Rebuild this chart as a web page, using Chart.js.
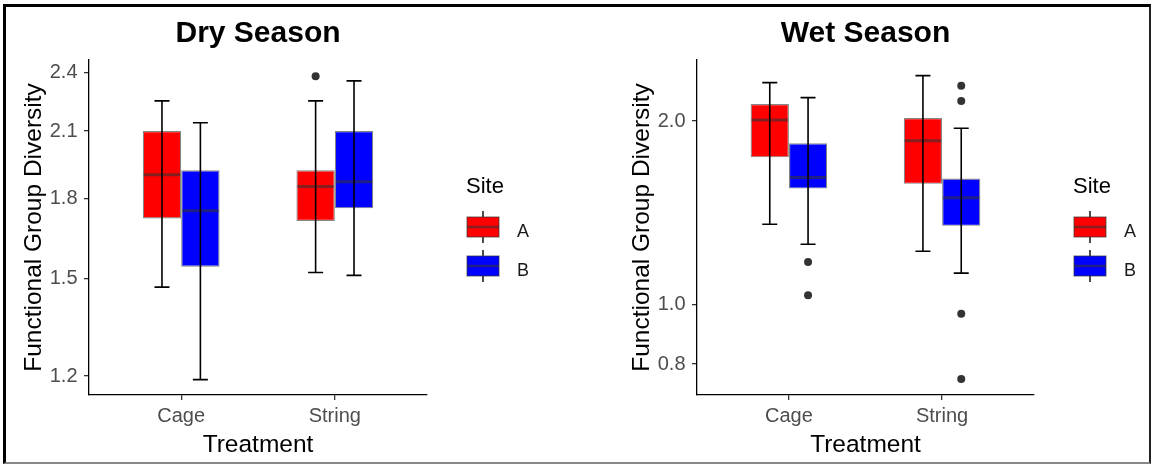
<!DOCTYPE html>
<html>
<head>
<meta charset="utf-8">
<script src="https://cdn.jsdelivr.net/npm/chart.js@4.4.1/dist/chart.umd.min.js"></script>
<style>
    body { margin: 0; background: #fff; }
    #marco {
        position: absolute; left: 3px; top: 4px; width: 1148px; height: 460px; box-sizing: border-box;
        border-left: 3px solid #000; border-top: 3px solid #000;
        border-right: 2px solid #222; border-bottom: 2px solid #888;
    }
    canvas { position: absolute; top: 0; }
    #seca { left: 0; }
    #chuva { left: 608px; }
</style>
</head>
<body>
<div id="marco"></div>
<canvas id="seca" width="576" height="465"></canvas>
<canvas id="chuva" width="544" height="465"></canvas>
<script>
const treatments = ['Cage', 'String'];
const sites = ['A', 'B'];
const siteColors = ['#FF0000', '#0000FF'];

// [whisker low, Q1, median, Q3, whisker high] for Cage, String
const dryA = [[1.47, 1.72, 1.90, 2.10, 2.25], [1.52, 1.71, 1.85, 1.92, 2.25]];
const dryB = [[1.19, 1.54, 1.75, 1.92, 2.14], [1.51, 1.76, 1.87, 2.10, 2.355]];
const dryOutA = [[], [2.38]];
const dryOutB = [[], []];

const wetA = [[1.355, 1.744, 2.007, 2.132, 2.311], [1.224, 1.578, 1.857, 2.023, 2.373]];
const wetB = [[1.257, 1.55, 1.616, 1.839, 2.184], [1.127, 1.347, 1.498, 1.61, 1.946]];
const wetOutA = [[], []];
const wetOutB = [[1.175, 1.037], [2.285, 2.157, 0.967, 0.756]];

const dryTicks = [1.2, 1.5, 1.8, 2.1, 2.4];
const wetTicks = [0.8, 1.0, 2.0];
const dryLimits = [1.149, 2.47];
const wetLimits = [0.712, 2.517];

const fonte = '"Liberation Sans", Arial, sans-serif';
Chart.defaults.font.family = fonte;

// medians, whiskers and outliers on top of the floating bars
const boxplotPlugin = {
    id: 'boxplot',
    afterDatasetsDraw(chart) {
        const ctx = chart.ctx;
        const y = chart.scales.y;
        chart.data.datasets.forEach((ds, i) => {
            const meta = chart.getDatasetMeta(i);
            meta.data.forEach((bar, j) => {
                const [low, q1, med, q3, high] = ds.stats[j];
                const half = bar.width / 2;
                ctx.save();
                ctx.strokeStyle = 'rgba(51,51,51,0.6)';
                ctx.lineWidth = 3;
                ctx.beginPath();
                ctx.moveTo(bar.x - half + 1, y.getPixelForValue(med));
                ctx.lineTo(bar.x + half - 1, y.getPixelForValue(med));
                ctx.stroke();

                ctx.strokeStyle = '#000';
                ctx.lineWidth = 1.6;
                ctx.beginPath();
                ctx.moveTo(bar.x, y.getPixelForValue(low));
                ctx.lineTo(bar.x, y.getPixelForValue(high));
                ctx.moveTo(bar.x - 7.5, y.getPixelForValue(low));
                ctx.lineTo(bar.x + 7.5, y.getPixelForValue(low));
                ctx.moveTo(bar.x - 7.5, y.getPixelForValue(high));
                ctx.lineTo(bar.x + 7.5, y.getPixelForValue(high));
                ctx.stroke();

                ctx.fillStyle = '#333';
                ds.outliers[j].forEach(v => {
                    ctx.beginPath();
                    ctx.arc(bar.x, y.getPixelForValue(v), 4, 0, 2 * Math.PI);
                    ctx.fill();
                });
                ctx.restore();
            });
        });
    }
};

const legendPlugin = {
    id: 'legendaSite',
    afterDraw(chart) {
        const ctx = chart.ctx;
        const { right, top } = chart.chartArea;
        const x0 = right + 39;
        ctx.save();
        ctx.fillStyle = '#000';
        ctx.font = `22px ${fonte}`;
        ctx.textBaseline = 'alphabetic';
        ctx.fillText('Site', x0, top + 133);
        sites.forEach((s, i) => {
            const kx = x0 + 1, ky = top + 157 + i * 39, kw = 32, kh = 20;
            ctx.strokeStyle = '#000';
            ctx.lineWidth = 1.4;
            ctx.beginPath();
            ctx.moveTo(kx + kw / 2, ky - 6);
            ctx.lineTo(kx + kw / 2, ky + kh + 6);
            ctx.stroke();
            ctx.fillStyle = siteColors[i];
            ctx.fillRect(kx, ky, kw, kh);
            ctx.strokeStyle = 'rgba(51,51,51,0.6)';
            ctx.lineWidth = 1.2;
            ctx.strokeRect(kx, ky, kw, kh);
            ctx.lineWidth = 2.5;
            ctx.beginPath();
            ctx.moveTo(kx, ky + kh / 2);
            ctx.lineTo(kx + kw, ky + kh / 2);
            ctx.stroke();
            ctx.fillStyle = '#1a1a1a';
            ctx.font = `18px ${fonte}`;
            ctx.fillText(s, kx + 50, ky + kh);
        });
        ctx.restore();
    }
};

function criarGrafico(id, titulo, statsA, statsB, outA, outB, ticks, limites, padRight) {
    const eixo = {
        border: { display: true, color: '#000', width: 1.3 },
        grid: { display: true, drawOnChartArea: false, drawTicks: true, tickLength: 5, color: '#333', lineWidth: 1.3, offset: false }
    };
    const todos = [statsA, statsB];
    const fora = [outA, outB];
    new Chart(document.getElementById(id), {
        type: 'bar',
        data: {
            datasets: sites.map((s, k) => ({
                label: s,
                data: todos[k].map((st, i) => ({ x: i + 1, y: [st[1], st[3]] })),
                stats: todos[k],
                outliers: fora[k],
                backgroundColor: siteColors[k],
                borderColor: 'rgba(51,51,51,0.6)',
                borderWidth: 1.2,
                borderSkipped: false,
                categoryPercentage: 0.5,
                barPercentage: 1.0
            }))
        },
        options: {
            responsive: false,
            animation: false,
            layout: { padding: { left: 0, right: padRight, top: 0, bottom: 0 } },
            scales: {
                x: {
                    ...eixo,
                    type: 'linear',
                    offset: false,
                    min: 0.4,
                    max: 2.6,
                    afterBuildTicks: (scale) => { scale.ticks = treatments.map((t, i) => ({ value: i + 1 })) },
                    afterFit: (scale) => { scale.height = 70 },
                    ticks: {
                        callback: (v) => treatments[v - 1],
                        color: '#4D4D4D',
                        font: { size: 20 },
                        padding: 4,
                        maxRotation: 0,
                        autoSkip: false
                    },
                    title: {
                        display: true,
                        text: 'Treatment',
                        color: '#000',
                        font: { size: 24.5 },
                        padding: { top: 0, bottom: 5 }
                    }
                },
                y: {
                    ...eixo,
                    type: 'logarithmic',
                    min: limites[0],
                    max: limites[1],
                    // the log scale rounds its first tick, so put the limits back
                    afterBuildTicks: (scale) => {
                        scale.ticks = ticks.map(v => ({ value: v }));
                        scale.min = limites[0];
                        scale.max = limites[1];
                    },
                    afterFit: (scale) => { scale.width = 89 },
                    ticks: {
                        callback: (v) => Number(v).toFixed(1),
                        color: '#4D4D4D',
                        font: { size: 20 },
                        padding: 6.5,
                        autoSkip: false
                    },
                    title: {
                        display: true,
                        text: 'Functional Group Diversity',
                        color: '#000',
                        font: { size: 24.5 },
                        padding: { top: 20, bottom: 0 }
                    }
                }
            },
            plugins: {
                legend: { display: false },
                tooltip: { enabled: false },
                title: {
                    display: true,
                    text: titulo,
                    fullSize: false,
                    color: '#000',
                    font: { size: 30, weight: 'bold' },
                    padding: { top: 16, bottom: 8 }
                }
            }
        },
        plugins: [boxplotPlugin, legendPlugin]
    });
}

criarGrafico('seca', 'Dry Season', dryA, dryB, dryOutA, dryOutB, dryTicks, dryLimits, 149);
criarGrafico('chuva', 'Wet Season', wetA, wetB, wetOutA, wetOutB, wetTicks, wetLimits, 118);
</script>
</body>
</html>
